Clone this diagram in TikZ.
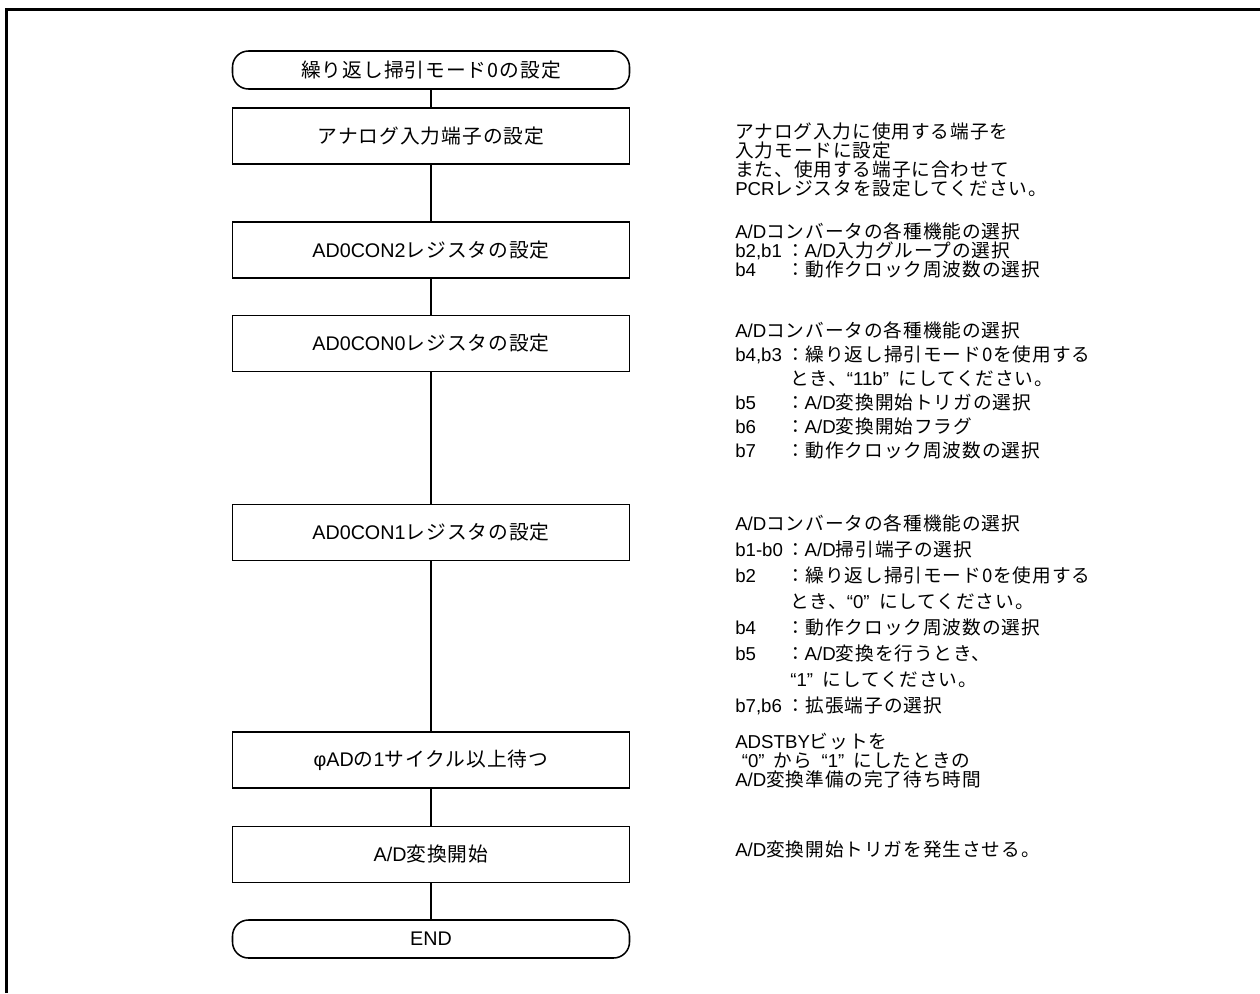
\documentclass[tikz,border=0pt]{standalone}
\usepackage{fontspec}
\setmainfont{Liberation Sans}
\newfontfamily\jpf[LetterSpace=5]{Noto Sans CJK JP}
\newcommand\bitl[1]{\makebox[2.72em][l]{#1}{\jpf ：}}
\newcommand\ind{\hspace*{2.95em}}
\newcommand\oq{“}
\newcommand\cq{”\hspace*{0.5em}}
\begin{document}
\begin{tikzpicture}[x=0.75pt,y=-0.75pt,
  procbox/.style={draw,line width=1.15pt,minimum width=297.75pt,minimum height=42pt,inner sep=0pt,
     font=\fontsize{14.8pt}{16pt}\selectfont},
  termbox/.style={draw,line width=1.15pt,rounded corners=12pt,minimum width=297.75pt,minimum height=28.5pt,inner sep=0pt,
     font=\fontsize{14.8pt}{16pt}\selectfont},
  desc/.style={anchor=base west,inner sep=0pt,font=\fontsize{14pt}{14pt}\selectfont},
  link/.style={line width=1pt}]
\useasboundingbox (0,0) rectangle (1260,993);
\draw[line width=2.2pt] (6.5,993) -- (6.5,9.5) -- (1260,9.5);
\node[termbox] (start) at (431,70) {\jpf 繰り返し掃引モード0の設定};
\node[procbox] (b1) at (431,136) {\jpf アナログ入力端子の設定};
\node[procbox] (b2) at (431,250) {AD0CON2{\jpf レジスタの設定}};
\node[procbox] (b3) at (431,343.5) {AD0CON0{\jpf レジスタの設定}};
\node[procbox] (b4) at (431,532.5) {AD0CON1{\jpf レジスタの設定}};
\node[procbox] (b5) at (431,760) {φAD{\jpf の}1{\jpf サイクル以上待つ}};
\node[procbox] (b6) at (431,854.5) {A/D{\jpf 変換開始}};
\node[termbox] (end) at (431,939) {END};
\draw[link] (start) -- (b1);
\draw[link] (b1) -- (b2);
\draw[link] (b2) -- (b3);
\draw[link] (b3) -- (b4);
\draw[link] (b4) -- (b5);
\draw[link] (b5) -- (b6);
\draw[link] (b6) -- (end);
% block 1
\node[desc] (d1a) at (735,138.5) {\jpf アナログ入力に使用する端子を};
\node[desc] (d1b) at (735,157.5) {\jpf 入力モードに設定};
\node[desc] (d1c) at (735,176.5) {\jpf また、使用する端子に合わせて};
\node[desc] (d1d) at (735,195.5) {PCR{\jpf レジスタを設定してください。}};
% block 2
\node[desc] (d2a) at (735,238.5) {A/D{\jpf コンバータの各種機能の選択}};
\node[desc] (d2b) at (735,257.5) {\bitl{b2,b1}A/D{\jpf 入力グループの選択}};
\node[desc] (d2c) at (735,276.5) {\bitl{b4}{\jpf 動作クロック周波数の選択}};
% block 3
\node[desc] (d3a) at (735,337.5) {A/D{\jpf コンバータの各種機能の選択}};
\node[desc] (d3b) at (735,361.5) {\bitl{b4,b3}{\jpf 繰り返し掃引モード0を使用する}};
\node[desc] (d3c) at (735,385.5) {\ind{\jpf とき、}\oq 11b\cq{\jpf にしてください。}};
\node[desc] (d3d) at (735,409.5) {\bitl{b5}A/D{\jpf 変換開始トリガの選択}};
\node[desc] (d3e) at (735,433.5) {\bitl{b6}A/D{\jpf 変換開始フラグ}};
\node[desc] (d3f) at (735,457.5) {\bitl{b7}{\jpf 動作クロック周波数の選択}};
% block 4
\node[desc] (d4a) at (735,530.5) {A/D{\jpf コンバータの各種機能の選択}};
\node[desc] (d4b) at (735,556.5) {\bitl{b1-b0}A/D{\jpf 掃引端子の選択}};
\node[desc] (d4c) at (735,582.5) {\bitl{b2}{\jpf 繰り返し掃引モード0を使用する}};
\node[desc] (d4d) at (735,608.5) {\ind{\jpf とき、}\oq 0\cq{\jpf にしてください。}};
\node[desc] (d4e) at (735,634.5) {\bitl{b4}{\jpf 動作クロック周波数の選択}};
\node[desc] (d4f) at (735,660.5) {\bitl{b5}A/D{\jpf 変換を行うとき、}};
\node[desc] (d4g) at (735,686.5) {\ind\oq 1\cq{\jpf にしてください。}};
\node[desc] (d4h) at (735,712.5) {\bitl{b7,b6}{\jpf 拡張端子の選択}};
% block 5
\node[desc] (d5a) at (735,748.5) {ADSTBY{\jpf ビットを}};
\node[desc] (d5b) at (735,767.5) {\hspace*{0.35em}\oq 0\cq{\jpf から}\hspace*{0.5em}\oq 1\cq{\jpf にしたときの}};
\node[desc] (d5c) at (735,786.5) {A/D{\jpf 変換準備の完了待ち時間}};
% block 6
\node[desc] (d6a) at (735,856.5) {A/D{\jpf 変換開始トリガを発生させる。}};
\end{tikzpicture}
\end{document}
